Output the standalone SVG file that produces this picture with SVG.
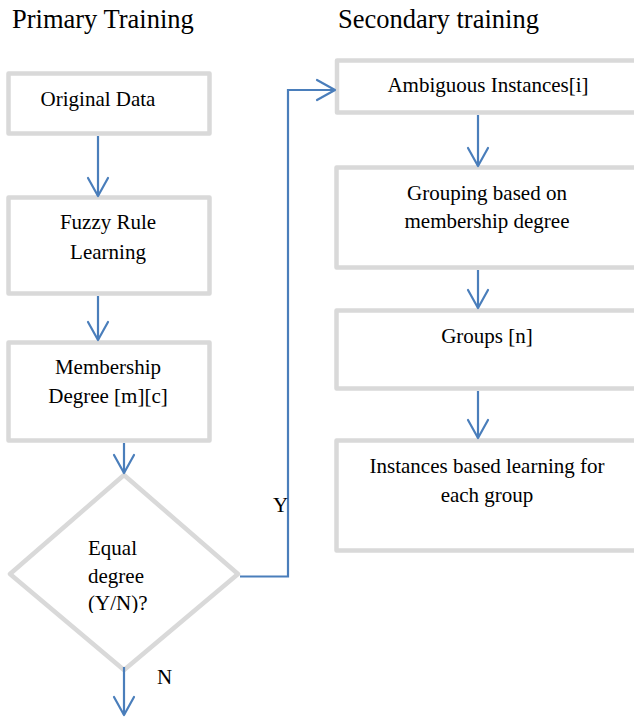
<svg xmlns="http://www.w3.org/2000/svg" width="634" height="717" viewBox="0 0 634 717" font-family="'Liberation Serif', 'DejaVu Serif', serif">
<style>
.box{fill:#ffffff;stroke:#d9d9d9;stroke-width:4.5;stroke-linejoin:round}
text{font-family:'Liberation Serif','DejaVu Serif',serif;fill:#000000}
.lbl{font-size:21px}
.ttl{font-size:26.5px}
.con{fill:none;stroke:#4a7ebb;stroke-width:2.2}
</style>
<defs>
<marker id="arr" markerUnits="userSpaceOnUse" markerWidth="22" markerHeight="24" refX="19" refY="11" orient="auto" overflow="visible">
<path d="M1,1 L19,11 L1,21" fill="none" stroke="#4a7ebb" stroke-width="2.2" stroke-linejoin="round" stroke-linecap="round"/>
</marker>
<clipPath id="dclip"><rect x="0" y="530" width="240" height="83"/></clipPath>
</defs>
<rect width="634" height="717" fill="#ffffff"/>
<text class="ttl" x="12" y="28" font-family="Liberation Serif, serif">Primary Training</text>
<text class="ttl" x="338" y="28" font-family="Liberation Serif, serif">Secondary training</text>

<g id="n-original">
<rect class="box" x="8.5" y="73.5" width="201" height="60"/>
<text class="lbl" x="98" y="106" text-anchor="middle">Original Data</text>
</g>
<g id="n-fuzzy">
<rect class="box" x="8.5" y="197.5" width="201" height="96"/>
<text class="lbl" x="108" y="229" text-anchor="middle">Fuzzy Rule</text>
<text class="lbl" x="108" y="259" text-anchor="middle">Learning</text>
</g>
<g id="n-membership">
<rect class="box" x="8.5" y="342.5" width="201" height="98"/>
<text class="lbl" x="108" y="374" text-anchor="middle">Membership</text>
<text class="lbl" x="108" y="403" text-anchor="middle">Degree [m][c]</text>
</g>
<g id="n-decision">
<polygon class="box" points="124,475 238,574 124,670 10,574"/>
<g clip-path="url(#dclip)">
<text class="lbl" x="88" y="555">Equal</text>
<text class="lbl" x="88" y="583">degree</text>
<text class="lbl" x="88" y="610">(Y/N)?</text>
</g>
</g>
<g id="n-ambiguous">
<rect class="box" x="337" y="60.5" width="310" height="52"/>
<text class="lbl" x="488" y="92" text-anchor="middle">Ambiguous Instances[i]</text>
</g>
<g id="n-grouping">
<rect class="box" x="336.5" y="167.5" width="310" height="100"/>
<text class="lbl" x="487" y="200" text-anchor="middle">Grouping based on</text>
<text class="lbl" x="487" y="228" text-anchor="middle">membership degree</text>
</g>
<g id="n-groups">
<rect class="box" x="336.5" y="310.5" width="310" height="78"/>
<text class="lbl" x="487" y="343" text-anchor="middle">Groups [n]</text>
</g>
<g id="n-instances">
<rect class="box" x="336.5" y="440.5" width="310" height="110"/>
<text class="lbl" x="487" y="473" text-anchor="middle">Instances based learning for</text>
<text class="lbl" x="487" y="502" text-anchor="middle">each group</text>
</g>

<g id="connectors">
<path class="con" d="M98,136 L98,196" marker-end="url(#arr)"/>
<path class="con" d="M98,296 L98,340" marker-end="url(#arr)"/>
<path class="con" d="M124,443 L124,473" marker-end="url(#arr)"/>
<path class="con" d="M240,576.5 L288,576.5 L288,90 L335,90" marker-end="url(#arr)"/>
<path class="con" d="M124,667 L124,715" marker-end="url(#arr)"/>
<path class="con" d="M478,115 L478,166" marker-end="url(#arr)"/>
<path class="con" d="M478,270 L478,308" marker-end="url(#arr)"/>
<path class="con" d="M478,391 L478,438" marker-end="url(#arr)"/>
<text class="lbl" x="273" y="512">Y</text>
<text class="lbl" x="157" y="684">N</text>
</g>
</svg>
